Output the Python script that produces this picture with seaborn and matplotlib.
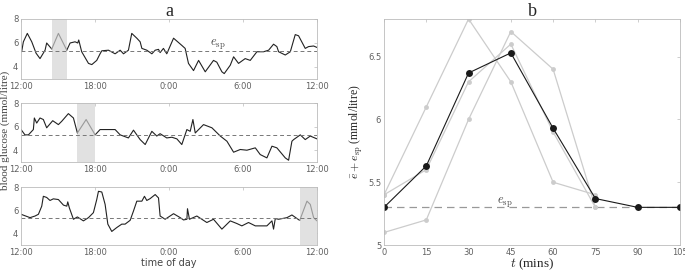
import numpy as np
import pandas as pd
import matplotlib
matplotlib.use("Agg")
import matplotlib.pyplot as plt
import seaborn as sns

# hours after 12:00 and glucose (mmol/litre) for each day
t1 = [0.05, 0.19, 0.51, 0.87, 1.22, 1.54, 1.95, 2.08, 2.49, 3.03, 3.71, 3.98, 4.38, 4.6, 4.68,
      4.92, 5.47, 5.74, 6.14, 6.41, 6.55, 7.09, 7.63, 8.04, 8.31, 8.71, 8.98, 9.39, 9.66, 9.80,
      10.2, 10.61, 10.88, 11.15, 11.28, 11.55, 11.82, 12.37, 13.04, 13.31, 13.58, 13.99, 14.40,
      14.94, 15.61, 15.88, 16.29, 16.48, 16.97, 17.24, 17.64, 18.18, 18.59, 19.13, 19.67, 20.08,
      20.48, 20.75, 20.89, 21.43, 21.84, 22.24, 22.51, 23.05, 23.32, 23.73, 24.0]
g1 = [5.27, 6.1, 6.8, 6.1, 5.15, 4.7, 5.4, 6.0, 5.5, 6.8, 5.4, 6.0, 6.1, 6.0, 6.25,
      5.27, 4.3, 4.2, 4.55, 5.1, 5.35, 5.4, 5.1, 5.4, 5.1, 5.4, 6.8, 6.4, 6.1, 5.55,
      5.4, 5.1, 5.4, 5.47, 5.2, 5.55, 5.1, 6.4, 5.8, 5.55, 4.3, 3.7, 4.55,
      3.6, 4.55, 4.4, 3.6, 3.45, 4.15, 4.85, 4.3, 4.7, 4.55, 5.27, 5.27, 5.4,
      5.9, 5.7, 5.27, 5.0, 5.27, 6.7, 6.6, 5.55, 5.7, 5.75, 5.63]

t2 = [0, 0.32, 0.6, 1.0, 1.08, 1.27, 1.54, 1.81, 2.08, 2.57, 3.03, 3.30, 3.84, 4.25, 4.57,
      5.28, 6.01, 6.41, 6.95, 7.63, 8.04, 8.71, 9.12, 9.39, 9.66, 10.07, 10.61, 11.01, 11.28,
      11.82, 12.23, 12.64, 13.04, 13.45, 13.72, 13.94, 14.13, 14.80, 15.48, 16.16, 16.70,
      17.24, 17.78, 18.32, 19.0, 19.40, 19.94, 20.35, 20.75, 21.43, 21.70, 21.97, 22.11,
      22.65, 23.05, 23.46, 24.0]
g2 = [5.75, 5.3, 5.3, 5.75, 6.73, 6.3, 6.73, 6.6, 5.9, 6.5, 6.17, 6.45, 7.1, 6.73, 5.46,
      6.6, 5.3, 5.75, 5.75, 5.75, 5.3, 5.04, 5.7, 5.3, 4.9, 4.48, 5.6, 5.2, 5.4,
      5.04, 5.1, 4.96, 4.48, 5.75, 5.6, 6.6, 5.46, 6.17, 5.9, 5.2, 4.76,
      3.83, 4.06, 4.0, 4.2, 3.63, 3.35, 4.34, 4.2, 3.35, 3.15, 4.76, 4.9,
      5.3, 4.9, 5.2, 4.96]

t3 = [0, 0.73, 1.14, 1.41, 1.68, 1.81, 2.08, 2.35, 2.62, 3.03, 3.44, 3.71, 3.79, 3.92, 4.25,
      4.57, 5.06, 5.47, 5.87, 6.14, 6.28, 6.55, 6.82, 7.04, 7.36, 7.77, 8.17, 8.44, 8.85,
      9.12, 9.39, 9.80, 10.01, 10.20, 10.47, 10.88, 11.15, 11.28, 11.69, 12.37, 12.91,
      13.18, 13.45, 13.50, 13.66, 14.26, 15.07, 15.61, 16.29, 16.97, 17.51, 17.91, 18.45,
      19.0, 19.94, 20.35, 20.48, 20.62, 20.89, 21.57, 21.97, 22.6, 23.19, 23.46, 23.73, 24.0]
g3 = [5.65, 5.36, 5.5, 5.65, 6.35, 7.2, 7.1, 6.84, 6.98, 6.92, 6.44, 6.35, 6.72, 6.2, 5.22,
      5.42, 5.08, 5.36, 5.79, 6.92, 7.63, 7.57, 6.5, 4.8, 4.17, 4.51, 4.8, 4.8, 5.13,
      5.93, 6.78, 6.78, 7.2, 6.84, 7.0, 7.35, 7.06, 5.5, 5.22, 5.7, 5.36,
      5.16, 5.22, 6.13, 5.22, 5.5, 4.94, 5.22, 4.37, 5.08, 4.85, 4.65, 4.94,
      4.65, 4.65, 5.08, 4.37, 5.28, 5.22, 5.36, 5.59, 5.12, 6.78, 6.5, 5.36, 5.08]

# excluded windows (hours after 12:00)
shades = [(2.49, 3.71), (4.57, 6.01), (22.6, 24.0)]
e_sp = 5.3

# panel b: mean response curves
t_mins = [0, 15, 30, 45, 60, 75, 90, 105]
e_mean = [5.3, 5.63, 6.37, 6.53, 5.93, 5.37, 5.3, 5.3]
t_runs = [0, 15, 30, 45, 60, 75]
run1 = [5.4, 6.1, 6.8, 6.3, 5.5, 5.4]
run2 = [5.4, 5.6, 6.3, 6.6, 5.9, 5.3]
run3 = [5.1, 5.2, 6.0, 6.7, 6.4, 5.3]

hour_ticks = [0, 6, 12, 18, 24]
hour_labels = ["12:00", "18:00", "0:00", "6:00", "12:00"]

sns.set_style("white")
plt.rcParams["font.family"] = ["DejaVu Sans"]
plt.rcParams["mathtext.fontset"] = "cm"

fig = plt.figure(figsize=(6.85, 2.71), dpi=100)
left_pos = [[0.0307, 0.7085, 0.432, 0.2214],
            [0.0307, 0.4022, 0.432, 0.2177],
            [0.0307, 0.0959, 0.432, 0.2140]]
tick_col = "#606060"
spine_col = "#bbbbbb"


def style_axes(ax):
    for s in ax.spines.values():
        s.set_color(spine_col)
        s.set_linewidth(0.6)
    ax.tick_params(direction="in", length=2.5, width=0.5, color=spine_col,
                   labelsize=6, labelcolor=tick_col, top=True, right=True, pad=2)


def split(t, g, s, e):
    rows = []
    for ti, gi in zip(t, g):
        if ti <= s + 1e-6:
            rows.append((ti, gi, "before"))
        if s - 1e-6 <= ti <= e + 1e-6:
            rows.append((ti, gi, "shade"))
        if ti >= e - 1e-6:
            rows.append((ti, gi, "after"))
    return pd.DataFrame(rows, columns=["t", "g", "seg"])


axes_a = []
for pos, t, g, (s, e) in zip(left_pos, [t1, t2, t3], [g1, g2, g3], shades):
    ax = fig.add_axes(pos)
    axes_a.append(ax)
    ax.axvspan(s, e, color="#e1e1e1", lw=0)
    df = split(t, g, s, e)
    dk = df[df.seg != "shade"]
    sns.lineplot(data=dk, x="t", y="g", units="seg", estimator=None, sort=False,
                 color="#222222", lw=0.8, ax=ax)
    sns.lineplot(data=df[df.seg == "shade"], x="t", y="g", estimator=None, sort=False,
                 color="#999999", lw=0.8, ax=ax)
    ax.axhline(e_sp, color="#777777", lw=0.7, ls=(0, (4, 3)))
    ax.set_xlim(0, 24)
    ax.set_ylim(3, 8)
    ax.set_xticks(hour_ticks)
    ax.set_xticklabels(hour_labels)
    ax.set_yticks([4, 6, 8])
    ax.set_xlabel("")
    ax.set_ylabel("")
    style_axes(ax)

axes_a[0].text(16.0, 5.72, r"$e_{\rm sp}$", fontsize=9, color="#444444", ha="center")
axes_a[0].set_title("a", family="Liberation Serif", fontsize=13, pad=2)
axes_a[2].set_xlabel("time of day", fontsize=7, color="#444444", labelpad=1)
fig.text(0.0, 0.52, "blood glucose (mmol/litre)", rotation=90, va="center", ha="left",
         family="Liberation Serif", fontsize=8, color="#444444")

axb = fig.add_axes([0.5606, 0.0959, 0.432, 0.834])
runs = pd.DataFrame({
    "t": t_runs * 3,
    "e": run1 + run2 + run3,
    "run": ["r1"] * 6 + ["r2"] * 6 + ["r3"] * 6,
})
axb.axhline(e_sp, color="#999999", lw=0.9, ls=(0, (6, 4)))
sns.lineplot(data=runs, x="t", y="e", units="run", estimator=None, sort=False,
             color="#cccccc", lw=0.9, marker="o", markersize=3.5, markeredgewidth=0, ax=axb)
sns.lineplot(x=t_mins, y=e_mean, color="#1a1a1a", lw=0.8, marker="o", markersize=5,
             markeredgewidth=0, ax=axb)
axb.set_xlim(0, 105)
axb.set_ylim(5, 6.8)
axb.set_xticks(t_mins)
axb.set_yticks([5, 5.5, 6, 6.5])
axb.set_yticklabels(["5", "5.5", "6", "6.5"])
style_axes(axb)
axb.text(43, 5.33, r"$e_{\rm sp}$", fontsize=9, color="#444444", ha="center")
axb.set_title("b", family="Liberation Serif", fontsize=13, pad=2)
axb.set_xlabel(r"$t$ (mins)", family="Liberation Serif", fontsize=9.5, labelpad=0)
axb.set_ylabel(r"$\bar{e}+e_{\rm sp}$ (mmol/litre)", family="Liberation Serif",
               fontsize=8.5, labelpad=2)

fig.savefig("out.png", dpi=100)
